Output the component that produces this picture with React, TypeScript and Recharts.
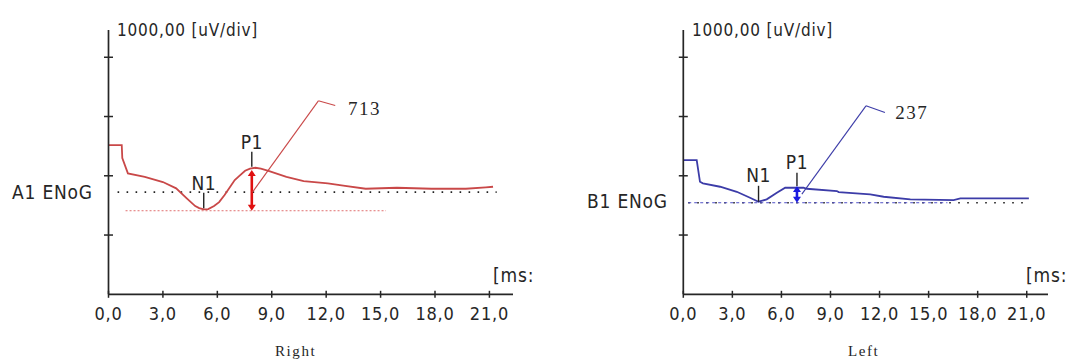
import React from 'react';
import { LineChart, Line, XAxis, YAxis, ReferenceLine, ReferenceDot } from 'recharts';

// ---------- data ----------
const xTicks = [0, 3, 6, 9, 12, 15, 18, 21];
const yTicks = [1000, 2000, 3000, 4000];
const X_MAX = 22.3;
const Y_MAX = 4460;

// Right ear (A1 ENoG) – red trace
const rightTimes = [0, 0.73, 0.76, 1.07, 2.0, 3.0, 3.73, 4.3, 4.78, 5.0, 5.25, 5.5, 5.82, 6.1, 6.4, 6.96, 7.2, 7.53, 7.8, 8.1, 8.4, 8.86, 9.81, 10.76, 12.09, 13.04, 14.18, 15.9, 17.8, 19.7, 20.8, 21.2];
const rightValues = [2518, 2518, 2298, 2040, 1983, 1894, 1788, 1624, 1489, 1455, 1433, 1438, 1489, 1556, 1675, 1927, 1995, 2084, 2121, 2135, 2121, 2079, 1983, 1911, 1872, 1831, 1781, 1798, 1781, 1781, 1804, 1815];

// Left ear (B1 ENoG) – blue trace
const leftTimes = [0, 0.82, 1.02, 1.2, 2.25, 3.27, 4.08, 4.6, 5.1, 5.72, 6.23, 7.35, 7.55, 9.39, 9.5, 11.43, 12.25, 13.88, 16.53, 16.94, 21.13];
const leftValues = [2265, 2265, 1899, 1872, 1815, 1730, 1629, 1562, 1602, 1713, 1798, 1798, 1781, 1742, 1725, 1686, 1646, 1602, 1590, 1619, 1619];

// annotations (time, value)
const rightBaseline = { from: 0.5, to: 21.4, v: 1725 };
const rightN1Level = { from: 0.94, to: 15.3, v: 1410 };
const rightN1 = { t: 5.25, top: 1713, bottom: 1450, labelV: 1872 };
const rightP1 = { t: 7.9, top: 2405, bottom: 2152, labelV: 2573 };
const rightArrow = { t: 7.9, top: 2096, bottom: 1410 };
const rightCallout = [{ t: 7.94, v: 1725 }, { t: 11.57, v: 3265 }, { t: 12.5, v: 3187 }];
const rightAmp = { t: 13.2, v: 3142, text: '713' };

const leftBaseline = { from: 0.3, to: 20.8, v: 1545 };
const leftN1Level = { from: 0.3, to: 16.15, v: 1545 };
const leftN1 = { t: 4.6, top: 1831, bottom: 1562, labelV: 2012 };
const leftP1 = { t: 6.95, top: 2051, bottom: 1826, labelV: 2236 };
const leftArrow = { t: 6.95, top: 1826, bottom: 1545 };
const leftCallout = [{ t: 7.25, v: 1691 }, { t: 11.17, v: 3180 }, { t: 12.33, v: 3069 }];
const leftAmp = { t: 12.96, v: 3074, text: '237' };

const rightData = rightTimes.map((t, i) => ({ t, v: rightValues[i] }));
const leftData = leftTimes.map((t, i) => ({ t, v: leftValues[i] }));

// ---------- styles ----------
const SANS = "'DejaVu Sans Condensed', 'DejaVu Sans', sans-serif";
const SERIF = "'Liberation Serif', 'Times New Roman', serif";
const AXIS = '#262626';
const TEXT = '#262626';

const fmt = (v: number) => v.toFixed(1).replace('.', ',');

function XTick(props: any) {
  const { x, y, payload } = props;
  return (
    <g>
      <line x1={x} x2={x} y1={y - 3.5} y2={y + 3.5} stroke={AXIS} strokeWidth={1.5} />
      <text x={x} y={y + 25.5} textAnchor="middle" fontFamily={SANS} fontSize={18} letterSpacing={0.8} fill={TEXT}>
        {fmt(payload.value)}
      </text>
    </g>
  );
}

function YTick(props: any) {
  const { x, y } = props;
  return <line x1={x - 4.5} x2={x + 4.5} y1={y} y2={y} stroke={AXIS} strokeWidth={1.5} />;
}

const makeArrow = (color: string) => (props: any) => {
  const { x1, y1, y2 } = props;
  const top = Math.min(y1, y2);
  const bot = Math.max(y1, y2);
  const h = 6;
  const w = 4;
  return (
    <g>
      <line x1={x1} x2={x1} y1={top + h - 1} y2={bot - h + 1} stroke={color} strokeWidth={2.6} />
      <polygon points={`${x1},${top} ${x1 - w},${top + h} ${x1 + w},${top + h}`} fill={color} />
      <polygon points={`${x1},${bot} ${x1 - w},${bot - h} ${x1 + w},${bot - h}`} fill={color} />
    </g>
  );
};

const sansLabel = (label: string) => (props: any) => (
  <text x={props.cx} y={props.cy} textAnchor="middle" dominantBaseline="central" fontFamily={SANS} fontSize={19} letterSpacing={0.5} fill={TEXT}>
    {label}
  </text>
);

const serifLabel = (label: string) => (props: any) => (
  <text x={props.cx} y={props.cy} textAnchor="start" dominantBaseline="central" fontFamily={SERIF} fontSize={19} letterSpacing={1.5} fill={TEXT}>
    {label}
  </text>
);

interface PanelProps {
  data: { t: number; v: number }[];
  color: string;
  arrowColor: string;
  levelColor: string;
  levelDash: string;
  marginLeft: number;
  baseline: { from: number; to: number; v: number };
  level: { from: number; to: number; v: number };
  n1: { t: number; top: number; bottom: number; labelV: number };
  p1: { t: number; top: number; bottom: number; labelV: number };
  arrow: { t: number; top: number; bottom: number };
  callout: { t: number; v: number }[];
  amp: { t: number; v: number; text: string };
}

function Panel(p: PanelProps) {
  return (
    <LineChart
      width={535}
      height={360}
      data={p.data}
      margin={{ top: 30, right: 22, bottom: 35.7, left: p.marginLeft }}
    >
      <XAxis
        dataKey="t"
        type="number"
        domain={[0, X_MAX]}
        ticks={xTicks}
        interval={0}
        height={30}
        tickSize={0}
        tickMargin={0}
        tickLine={false}
        axisLine={{ stroke: AXIS, strokeWidth: 1.7 }}
        tick={<XTick />}
      />
      <YAxis
        type="number"
        domain={[0, Y_MAX]}
        ticks={yTicks}
        interval={0}
        width={10}
        tickSize={0}
        tickMargin={0}
        tickLine={false}
        axisLine={{ stroke: AXIS, strokeWidth: 1.7 }}
        tick={<YTick />}
      />
      <ReferenceLine
        segment={[{ x: p.baseline.from, y: p.baseline.v }, { x: p.baseline.to, y: p.baseline.v }]}
        stroke="#222"
        strokeWidth={1.6}
        strokeDasharray="1.6 7.4"
      />
      <ReferenceLine
        segment={[{ x: p.level.from, y: p.level.v }, { x: p.level.to, y: p.level.v }]}
        stroke={p.levelColor}
        strokeWidth={1}
        strokeDasharray={p.levelDash}
      />
      <Line type="linear" dataKey="v" stroke={p.color} strokeWidth={1.8} dot={false} isAnimationActive={false} />
      <ReferenceLine
        segment={[{ x: p.n1.t, y: p.n1.top }, { x: p.n1.t, y: p.n1.bottom }]}
        stroke="#222"
        strokeWidth={1.4}
      />
      <ReferenceLine
        segment={[{ x: p.p1.t, y: p.p1.top }, { x: p.p1.t, y: p.p1.bottom }]}
        stroke="#222"
        strokeWidth={1.4}
      />
      <ReferenceLine
        segment={[{ x: p.arrow.t, y: p.arrow.top }, { x: p.arrow.t, y: p.arrow.bottom }]}
        shape={makeArrow(p.arrowColor)}
      />
      <ReferenceLine
        segment={[{ x: p.callout[0].t, y: p.callout[0].v }, { x: p.callout[1].t, y: p.callout[1].v }]}
        stroke={p.color}
        strokeWidth={1.1}
      />
      <ReferenceLine
        segment={[{ x: p.callout[1].t, y: p.callout[1].v }, { x: p.callout[2].t, y: p.callout[2].v }]}
        stroke={p.color}
        strokeWidth={1.1}
      />
      <ReferenceDot x={p.n1.t} y={p.n1.labelV} r={0} shape={sansLabel('N1')} />
      <ReferenceDot x={p.p1.t} y={p.p1.labelV} r={0} shape={sansLabel('P1')} />
      <ReferenceDot x={p.amp.t} y={p.amp.v} r={0} shape={serifLabel(p.amp.text)} />
    </LineChart>
  );
}

const abs = (left: number, cy: number, size: number, family: string, extra: React.CSSProperties = {}): React.CSSProperties => ({
  position: 'absolute',
  left,
  top: cy - 12,
  height: 24,
  lineHeight: '24px',
  fontSize: size,
  fontFamily: family,
  color: TEXT,
  whiteSpace: 'nowrap',
  ...extra,
});

export default function App() {
  return (
    <div style={{ position: 'absolute', left: 0, top: 0, width: 1070, height: 360, background: '#fff', overflow: 'hidden' }}>
      <div style={{ position: 'absolute', left: 0, top: 0 }}>
        <Panel
          data={rightData}
          color="#c94848"
          arrowColor="#e01010"
          levelColor="#e07070"
          levelDash="2 2"
          marginLeft={98.5}
          baseline={rightBaseline}
          level={rightN1Level}
          n1={rightN1}
          p1={rightP1}
          arrow={rightArrow}
          callout={rightCallout}
          amp={rightAmp}
        />
      </div>
      <div style={{ position: 'absolute', left: 535, top: 0 }}>
        <Panel
          data={leftData}
          color="#3c3ca8"
          arrowColor="#1a1ae0"
          levelColor="#5050c8"
          levelDash="3 3"
          marginLeft={138.3}
          baseline={leftBaseline}
          level={leftN1Level}
          n1={leftN1}
          p1={leftP1}
          arrow={leftArrow}
          callout={leftCallout}
          amp={leftAmp}
        />
      </div>
      <div style={abs(117, 30, 17, SANS, { letterSpacing: 0.8 })}>1000,00 [uV/div]</div>
      <div style={abs(692, 30, 17, SANS, { letterSpacing: 0.8 })}>1000,00 [uV/div]</div>
      <div style={abs(12, 192, 19, SANS, { letterSpacing: 0.8 })}>A1 ENoG</div>
      <div style={abs(587, 201, 19, SANS, { letterSpacing: 0.8 })}>B1 ENoG</div>
      <div style={abs(493, 275, 19, SANS, { letterSpacing: 0.8 })}>[ms:</div>
      <div style={abs(1026, 275, 19, SANS, { letterSpacing: 0.8 })}>[ms:</div>
      <div style={abs(275, 351, 15, SERIF, { letterSpacing: 1.6 })}>Right</div>
      <div style={abs(848, 351, 15, SERIF, { letterSpacing: 1.6 })}>Left</div>
    </div>
  );
}
